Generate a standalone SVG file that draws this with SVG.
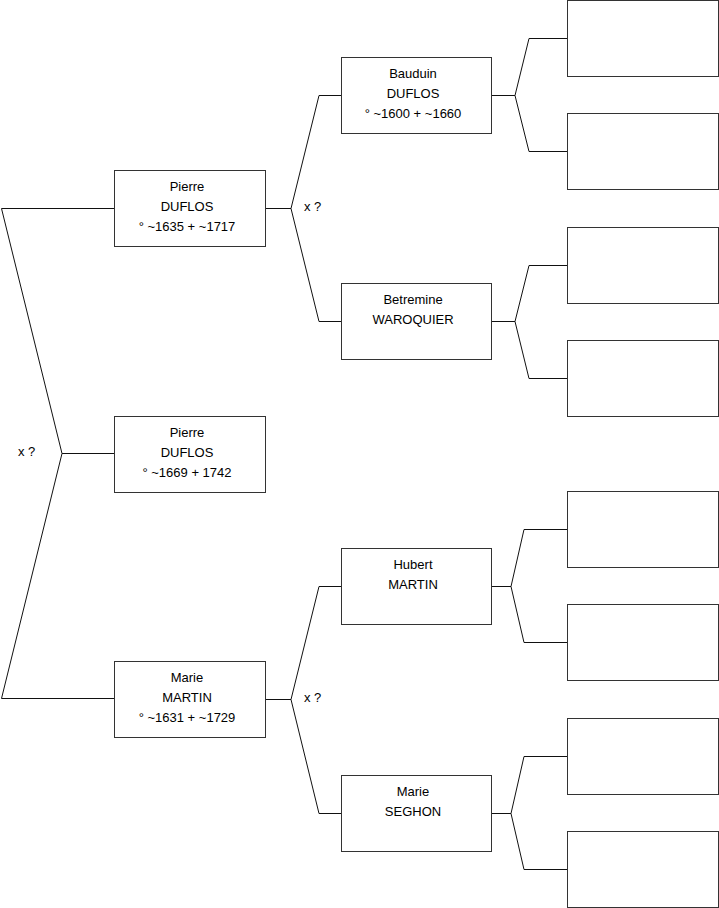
<svg xmlns="http://www.w3.org/2000/svg" width="719" height="908" viewBox="0 0 719 908">
<style>
.box{fill:#fff;stroke:#333;stroke-width:1}
.ln{fill:none;stroke:#111;stroke-width:1}
text{font-family:"Liberation Sans",Arial,sans-serif;font-size:13px;fill:#000}
.c{text-anchor:middle}
</style>
<rect width="719" height="908" fill="#fff"/>
<g id="connectors" class="ln">
<path d="M114,208.5 H1.5 L62,453.5 L1.5,698.5 H114 M62,453.5 H114"/>
<path d="M265,208.5 H291 L319,95.5 H341 M291,208.5 L319,321.5 H341"/>
<path d="M265,699.5 H291 L319,586.5 H341 M291,699.5 L319,813.5 H341"/>
<path d="M491,95.5 H515 L529,38.5 H567 M515,95.5 L529,151.5 H567"/>
<path d="M491,321.5 H515 L529,265.5 H567 M515,321.5 L529,378.5 H567"/>
<path d="M491,586.5 H511 L524,529.5 H567 M511,586.5 L524,642.5 H567"/>
<path d="M491,813.5 H511 L524,756.5 H567 M511,813.5 L524,869.5 H567"/>
</g>
<g id="labels">
<text x="304" y="211">x ?</text>
<text x="304" y="702">x ?</text>
<text x="18" y="456">x ?</text>
</g>
<g id="pierre1635"><rect class="box" x="114.5" y="170.5" width="151" height="76"/>
<text class="c" x="187" y="191">Pierre</text><text class="c" x="187" y="211">DUFLOS</text><text class="c" x="187" y="231">° ~1635 + ~1717</text></g>
<g id="pierre1669"><rect class="box" x="114.5" y="416.5" width="151" height="76"/>
<text class="c" x="187" y="437">Pierre</text><text class="c" x="187" y="457">DUFLOS</text><text class="c" x="187" y="477">° ~1669 + 1742</text></g>
<g id="mariemartin"><rect class="box" x="114.5" y="661.5" width="151" height="76"/>
<text class="c" x="187" y="682">Marie</text><text class="c" x="187" y="702">MARTIN</text><text class="c" x="187" y="722">° ~1631 + ~1729</text></g>
<g id="bauduin"><rect class="box" x="341.5" y="57.5" width="150" height="76"/>
<text class="c" x="413" y="78">Bauduin</text><text class="c" x="413" y="98">DUFLOS</text><text class="c" x="413" y="118">° ~1600 + ~1660</text></g>
<g id="betremine"><rect class="box" x="341.5" y="283.5" width="150" height="76"/>
<text class="c" x="413" y="304">Betremine</text><text class="c" x="413" y="324">WAROQUIER</text></g>
<g id="hubert"><rect class="box" x="341.5" y="548.5" width="150" height="76"/>
<text class="c" x="413" y="569">Hubert</text><text class="c" x="413" y="589">MARTIN</text></g>
<g id="marieseghon"><rect class="box" x="341.5" y="775.5" width="150" height="76"/>
<text class="c" x="413" y="796">Marie</text><text class="c" x="413" y="816">SEGHON</text></g>
<g id="e1"><rect class="box" x="567.5" y="0.5" width="151" height="76"/></g>
<g id="e2"><rect class="box" x="567.5" y="113.5" width="151" height="76"/></g>
<g id="e3"><rect class="box" x="567.5" y="227.5" width="151" height="76"/></g>
<g id="e4"><rect class="box" x="567.5" y="340.5" width="151" height="76"/></g>
<g id="e5"><rect class="box" x="567.5" y="491.5" width="151" height="76"/></g>
<g id="e6"><rect class="box" x="567.5" y="604.5" width="151" height="76"/></g>
<g id="e7"><rect class="box" x="567.5" y="718.5" width="151" height="76"/></g>
<g id="e8"><rect class="box" x="567.5" y="831.5" width="151" height="76"/></g>
</svg>
